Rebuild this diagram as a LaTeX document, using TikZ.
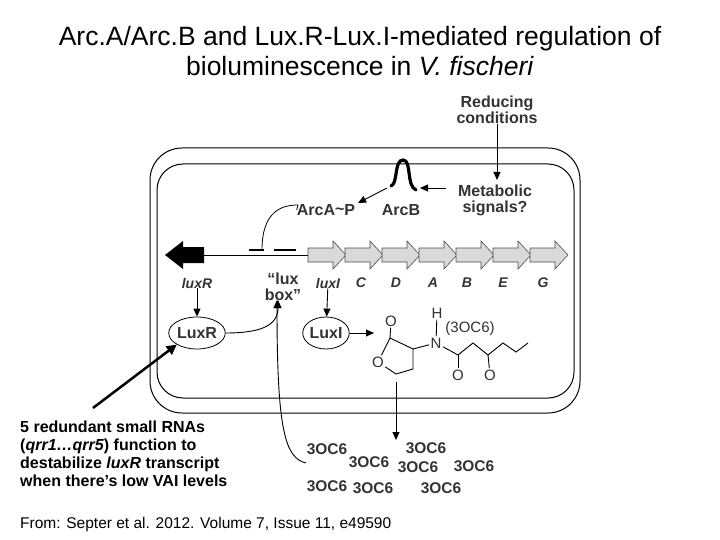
\documentclass[tikz,border=0pt]{standalone}
\usepackage{fontspec}
\setmainfont{Liberation Sans}
\usetikzlibrary{arrows.meta,shapes.geometric}
\begin{document}
\begin{tikzpicture}[x=1pt,y=-1pt,
  lbl/.style={font=\fontsize{16}{16}\selectfont\bfseries\color{black!80},align=center,inner sep=0},
  gl/.style={font=\fontsize{14}{15}\selectfont\bfseries\itshape\color{black!80},inner sep=0},
  ar/.style={-{Triangle[length=8pt,width=7pt]},line width=0.9pt},
  gene/.style={fill=black!15,draw=black!70,line width=0.6pt},
  oc/.style={font=\fontsize{15.5}{16}\selectfont\bfseries\color{black!80},inner sep=0},
  atom/.style={font=\fontsize{15}{15}\selectfont\color{black!80},inner sep=1pt,fill=white}]
\useasboundingbox (0,0) rectangle (720,540);
% title
\node[font=\fontsize{26.5}{30}\selectfont,align=center] (title) at (360,51)
  {Arc.A/Arc.B and Lux.R-Lux.I-mediated regulation of\\bioluminescence in \textit{V. fischeri}};
% cell
\draw[line width=1pt,rounded corners=32] (150,148) rectangle (580,413);
\draw[line width=1pt,rounded corners=26] (157,164) rectangle (574,398);
% top labels
\node[lbl] (red) at (497,110) {Reducing\\conditions};
\node[lbl] (met) at (495,200) {Metabolic\\signals?};
\node[lbl] (arcb) at (401,210) {ArcB};
\node[lbl] (arca) at (326,210) {ArcA\raisebox{0.15ex}{\textasciitilde}P};
\draw[ar] (red) -- (497,180);
\draw[line width=3.2pt,line cap=round] (391,186) .. controls (398,184) and (394,160) .. (403,160) .. controls (412,160) and (406,186) .. (416,190);
\draw[ar] (446,188) -- (420,188);
\draw[ar] (387,188) -- (358,203);
% gene line
\draw[line width=1pt] (200,255) -- (308,255);
\draw[line width=2.5pt] (249,250) -- (264,250) (274,250) -- (296,250);
\draw[line width=0.8pt] (arca.west) -- (298,205) .. controls (283,205) and (262,210) .. (262,250);
\fill (165,255) -- (183,241) -- (183,247) -- (204,247) -- (204,263) -- (183,263) -- (183,269) -- cycle;
\foreach \x/\n in {308/luxI,345/C,382/D,419/A,456/B,493/E,530/G}{
  \draw[gene] (\x,248) -- (\x+25,248) -- (\x+25,241) -- (\x+38,255) -- (\x+25,269) -- (\x+25,262) -- (\x,262) -- cycle;
}
\node[gl] (gR) at (197,283) {luxR};
\node[lbl] (box) at (283,287) {``lux\\box''};
\node[gl] (gI) at (328,283) {luxI};
\node[gl] at (361,283) {C};
\node[gl] at (396,283) {D};
\node[gl] at (433,283) {A};
\node[gl] at (467,283) {B};
\node[gl] at (503,283) {E};
\node[gl] at (543,283) {G};
% proteins
\node[draw,ellipse,line width=0.8pt,minimum width=48pt,minimum height=32pt,lbl,inner sep=0] (luxR) at (197,333) {LuxR};
\node[draw,ellipse,line width=0.8pt,minimum width=44pt,minimum height=32pt,lbl,inner sep=0] (luxI) at (326,333) {LuxI};
\draw[ar] (gR) -- (luxR);
\draw[ar] (gI) -- (luxI);
\draw[ar] (luxR.east) .. controls (262,333) and (278,325) .. (278,300);
\draw[ar] (luxI.east) -- (374,333);
% molecule
\begin{scope}[line width=0.9pt]
\coordinate (c2) at (390,338); \coordinate (c3) at (413,349);
\coordinate (c4) at (413,369); \coordinate (c5) at (396,374);
\node[atom] (o1) at (378,362) {O};
\node[atom] (o2) at (391,321) {O};
\node[atom] (n) at (436,343) {N};
\node[atom] (h) at (437,313) {H};
\draw (o1) -- (c2) -- (c3) -- (c4) -- (c5) -- (o1);
\draw (c2) -- (o2);
\draw (c3) -- (n); \draw (n) -- (h);
\coordinate (k1) at (458,355); \coordinate (k2) at (473,343);
\coordinate (k3) at (488,355); \coordinate (k4) at (503,343); \coordinate (k5) at (516,352); \coordinate (k6) at (528,343);
\node[atom] (o3) at (458,375) {O};
\node[atom] (o4) at (490,375) {O};
\draw (n) -- (k1) -- (k2) -- (k3) -- (k4) -- (k5) -- (k6);
\draw (k1) -- (o3); \draw (k3) -- (o4);
\end{scope}
\node[atom,fill=none] (lab) at (470,329) {(3OC6)};
\draw[ar] (396,382) -- (396,440);
% 3OC6 cloud
\node[oc] (a1) at (327,449) {3OC6};
\node[oc] (a2) at (369,462) {3OC6};
\node[oc] (a3) at (426,448) {3OC6};
\node[oc] (a4) at (418,467) {3OC6};
\node[oc] (a5) at (474,466) {3OC6};
\node[oc] (a6) at (327,486) {3OC6};
\node[oc] (a7) at (373,488) {3OC6};
\node[oc] (a8) at (441,488) {3OC6};
\draw[ar] (306,463) .. controls (285,458) and (277,430) .. (277,300);
% small RNAs
\node[font=\fontsize{16}{18}\selectfont\bfseries,align=left,anchor=north west,inner sep=0] (rna) at (20,421)
 {5 redundant small RNAs\\(\textit{qrr1\ldots qrr5}) function to\\destabilize \textit{luxR} transcript\\when there’s low VAI levels};
\draw[line width=2.5pt,-{Triangle[length=10pt,width=10pt]}] (93,408) -- (luxR.south west);
\node[font=\fontsize{15.5}{16}\selectfont,anchor=west,inner sep=0] (src) at (20,524) {From: Septer et al. 2012. Volume 7, Issue 11, e49590};
\end{tikzpicture}
\end{document}
